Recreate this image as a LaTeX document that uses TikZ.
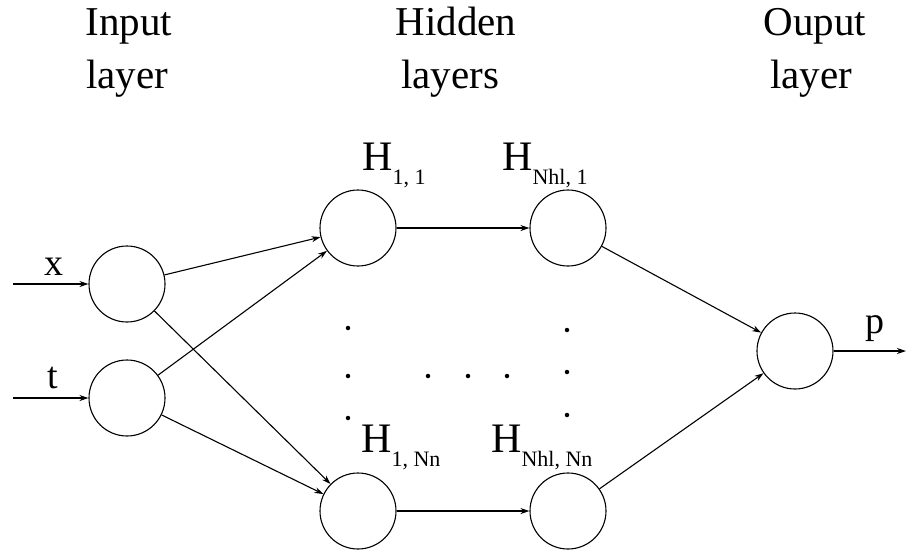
\documentclass[tikz,border=0pt]{standalone}
\usepackage{fontspec}
\setmainfont{Liberation Serif}
\usetikzlibrary{arrows.meta}
\tikzset{
  neuron/.style={draw, circle, minimum size=76pt, inner sep=0pt, line width=1.1pt},
  conn/.style={-{Stealth[length=9pt,width=6pt]}, line width=1.1pt},
  title/.style={anchor=base, inner sep=0pt, font=\fontsize{41}{41}\selectfont},
  lab/.style={anchor=base, inner sep=0pt, font=\fontsize{38}{38}\selectfont},
  hlab/.style={anchor=base west, inner sep=0pt, font=\fontsize{42}{42}\selectfont},
  dotmark/.style={fill, circle, inner sep=0pt, minimum size=4.5pt}
}
\newcommand{\hsub}[1]{\raisebox{-14pt}{\fontsize{22}{22}\selectfont #1}}
\begin{document}
\begin{tikzpicture}[x=1pt,y=-1pt]
\useasboundingbox (0,0) rectangle (906,550);
% titles
\node[title] (ti1) at (129,35) {Input};
\node[title] (ti2) at (127,88) {layer};
\node[title] (th1) at (456,35) {Hidden};
\node[title] (th2) at (450,88) {layers};
\node[title] (to1) at (815,35) {Ouput};
\node[title] (to2) at (811,88) {layer};
% neurons
\node[neuron] (ix) at (127,284) {};
\node[neuron] (it) at (127,398) {};
\node[neuron] (h11) at (358,228) {};
\node[neuron] (hn1) at (568,228) {};
\node[neuron] (h1n) at (358,511) {};
\node[neuron] (hnn) at (568,511) {};
\node[neuron] (out) at (795,351) {};
% inputs / output
\coordinate (xs) at (13,284);
\coordinate (ts) at (13,398);
\coordinate (pe) at (906,351);
\draw[conn] (xs) -- (ix);
\draw[conn] (ts) -- (it);
\draw[conn] (out) -- (pe);
\node[lab] (lx) at (54,275) {x};
\node[lab] (lt) at (53,388) {t};
\node[lab] (lp) at (875,333) {p};
% connections
\draw[conn] (ix) -- (h11);
\draw[conn] (ix) -- (h1n);
\draw[conn] (it) -- (h11);
\draw[conn] (it) -- (h1n);
\draw[conn] (h11) -- (hn1);
\draw[conn] (h1n) -- (hnn);
\draw[conn] (hn1) -- (out);
\draw[conn] (hnn) -- (out);
% hidden labels
\node[hlab] (l11) at (362,170) {H\hsub{1, 1}};
\node[hlab] (ln1) at (502,170) {H\hsub{Nhl, 1}};
\node[hlab] (l1n) at (361,452) {H\hsub{1, Nn}};
\node[hlab] (lnn) at (491,452) {H\hsub{Nhl, Nn}};
% dots
\node[dotmark] (d1) at (348,328) {};
\node[dotmark] (d2) at (348,376) {};
\node[dotmark] (d3) at (348,418) {};
\node[dotmark] (d4) at (428,376) {};
\node[dotmark] (d5) at (468,376) {};
\node[dotmark] (d6) at (507,376) {};
\node[dotmark] (d7) at (567,330) {};
\node[dotmark] (d8) at (567,372) {};
\node[dotmark] (d9) at (567,415) {};
\end{tikzpicture}
\end{document}
